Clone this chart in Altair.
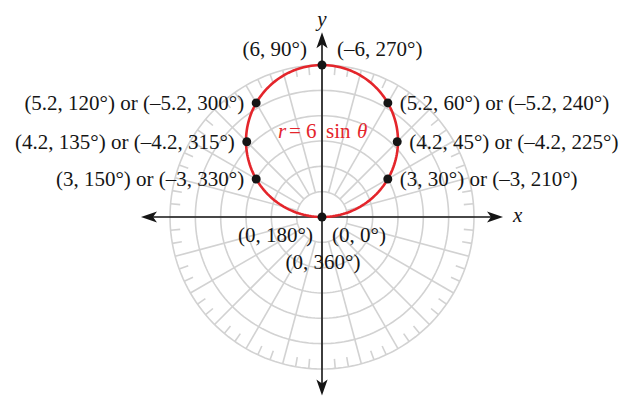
import numpy as np
import pandas as pd
import altair as alt

# ---- data ----
pt_r = [0, 3, 4.2, 5.2, 6, 5.2, 4.2, 3]
pt_theta = [0, 30, 45, 60, 90, 120, 135, 150]

right_text = ["(3, 30°) or (–3, 210°)", "(4.2, 45°) or (–4.2, 225°)", "(5.2, 60°) or (–5.2, 240°)"]
right_r = [3, 4.2, 5.2]
right_theta = [30, 45, 60]

left_text = ["(3, 150°) or (–3, 330°)", "(4.2, 135°) or (–4.2, 315°)", "(5.2, 120°) or (–5.2, 300°)"]
left_r = [3, 4.2, 5.2]
left_theta = [150, 135, 120]

top_left_text = ["(6, 90°)"]
top_right_text = ["(–6, 270°)"]
bottom_left_text = ["(0, 180°)"]
bottom_right_text = ["(0, 0°)"]
bottom_center_text = ["(0, 360°)"]

grid_radii = [1, 2, 3, 4, 5, 6]
# axis arrow tips: right, left, top, bottom
tip_x = [7.15, -7.15, 0.0, 0.0]
tip_y = [0.0, 0.0, 7.3, -7.05]
tip_ang = [90, 270, 0, 180]

# ---- layout ----
W, H = 611, 389
PX = 25.33  # pixels per unit
X0, Y0 = 314, 209  # origin within the plot area
XMIN, XMAX = -X0 / PX, (W - X0) / PX
YMAX, YMIN = Y0 / PX, -(H - Y0) / PX
xs = alt.Scale(domain=[XMIN, XMAX], nice=False, zero=False)
ys = alt.Scale(domain=[YMIN, YMAX], nice=False, zero=False)

FONT = "Liberation Serif"
FS = 21
GRID = "#d2d2d2"
RED = "#e4252b"
INK = "#151515"
HEAD = 0.32  # arrowhead half length, units


def polar(r, t):
    t = np.radians(np.asarray(t, dtype=float))
    r = np.asarray(r, dtype=float)
    return r * np.cos(t), r * np.sin(t)


# grid circles
rows = []
for rr in grid_radii:
    for i, t in enumerate(np.arange(0, 361, 2)):
        x, y = polar(rr, t)
        rows.append({"ring": rr, "i": i, "x": float(x), "y": float(y)})
circles = pd.DataFrame(rows)

# radial lines every 15 degrees
rad = []
for a in range(0, 360, 15):
    x1, y1 = polar(1, a)
    x2, y2 = polar(6, a)
    rad.append({"x": float(x1), "y": float(y1), "x2": float(x2), "y2": float(y2)})
radial = pd.DataFrame(rad)

# small ticks every 5 degrees on outer ring
tk = []
for a in range(0, 360, 5):
    if a % 15:
        x1, y1 = polar(5.62, a)
        x2, y2 = polar(6, a)
        tk.append({"x": float(x1), "y": float(y1), "x2": float(x2), "y2": float(y2)})
ticks = pd.DataFrame(tk)

# the curve r = 6 sin(theta)
th = np.arange(0, 181, 1)
cx, cy = polar(6 * np.sin(np.radians(th)), th)
curve = pd.DataFrame({"i": np.arange(len(th)), "x": cx, "y": cy})

# labelled points
px_, py_ = polar(pt_r, pt_theta)
points = pd.DataFrame({"x": px_, "y": py_})

# axes (lines stop inside the arrowheads)
tx = np.array(tip_x)
ty = np.array(tip_y)
ux = np.sign(tx)
uy = np.sign(ty)
axes = pd.DataFrame({
    "x": [tx[1] - ux[1] * HEAD, 0.0], "y": [0.0, ty[3] - uy[3] * HEAD],
    "x2": [tx[0] - ux[0] * HEAD, 0.0], "y2": [0.0, ty[2] - uy[2] * HEAD],
})
heads = pd.DataFrame({
    "x": tx - ux * HEAD,
    "y": ty - uy * HEAD,
    "ang": tip_ang,
})


def xy():
    return dict(x=alt.X("x:Q", scale=xs, axis=None), y=alt.Y("y:Q", scale=ys, axis=None))


grid_c = alt.Chart(circles).mark_line(color=GRID, strokeWidth=1.6).encode(
    **xy(), detail="ring:N", order="i:Q")
grid_r = alt.Chart(radial).mark_rule(color=GRID, strokeWidth=1.6).encode(
    **xy(), x2="x2:Q", y2="y2:Q")
grid_t = alt.Chart(ticks).mark_rule(color=GRID, strokeWidth=1.6).encode(
    **xy(), x2="x2:Q", y2="y2:Q")
ax = alt.Chart(axes).mark_rule(color=INK, strokeWidth=1.6).encode(
    **xy(), x2="x2:Q", y2="y2:Q")
arrow_shape = "M0,-1 L0.7,1 L0,0.5 L-0.7,1 Z"
hd = alt.Chart(heads).mark_point(shape=arrow_shape, filled=True, color=INK,
                                 size=256, opacity=1, strokeWidth=0).encode(
    **xy(), angle=alt.Angle("ang:Q", scale=None))
cur = alt.Chart(curve).mark_line(color=RED, strokeWidth=2.6).encode(**xy(), order="i:Q")
dots = alt.Chart(points).mark_circle(color=INK, size=80, opacity=1).encode(**xy())


def labels(texts, xs_, ys_, align, dx, dy, style="normal", color=INK, fs=FS, baseline="middle"):
    df = pd.DataFrame({"x": xs_, "y": ys_, "t": texts})
    return alt.Chart(df).mark_text(font=FONT, fontSize=fs, align=align, baseline=baseline,
                                   dx=dx, dy=dy, color=color, fontStyle=style).encode(
        **xy(), text="t:N")


def plabels(texts, rs, thetas, align, dx, dy, **kw):
    lx, ly = polar(rs, thetas)
    return labels(texts, lx, ly, align, dx, dy, **kw)


lab = [
    plabels(right_text, right_r, right_theta, "left", 12, 1),
    plabels(left_text, left_r, left_theta, "right", -12, 1),
    plabels(top_left_text, [6], [90], "right", -15, -15),
    plabels(top_right_text, [6], [90], "left", 15, -15),
    plabels(bottom_left_text, [0], [0], "right", -9, 19),
    plabels(bottom_right_text, [0], [0], "left", 10, 19),
    plabels(bottom_center_text, [0], [0], "center", 1, 46),
    labels(["x"], [tip_x[0]], [0.0], "left", 10, -1, style="italic"),
    labels(["y"], [0.0], [tip_y[2]], "center", 0, -6, style="italic", baseline="alphabetic"),
    # formula r = 6 sin θ
    plabels(["r"], [3.35], [90], "left", -44, 0, style="italic", color=RED),
    plabels(["= 6"], [3.35], [90], "left", -33, 0, color=RED),
    plabels(["sin"], [3.35], [90], "left", 4, 0, color=RED),
    plabels(["θ"], [3.35], [90], "left", 35, 0, style="italic", color=RED),
]

chart = alt.layer(grid_c, grid_r, grid_t, ax, hd, cur, dots, *lab).properties(
    width=W, height=H, padding=0, autosize=alt.AutoSizeParams(type="none"),
    background="white",
).configure_view(stroke=None)

chart.save("out.html", embed_options={"renderer": "svg", "actions": False})
